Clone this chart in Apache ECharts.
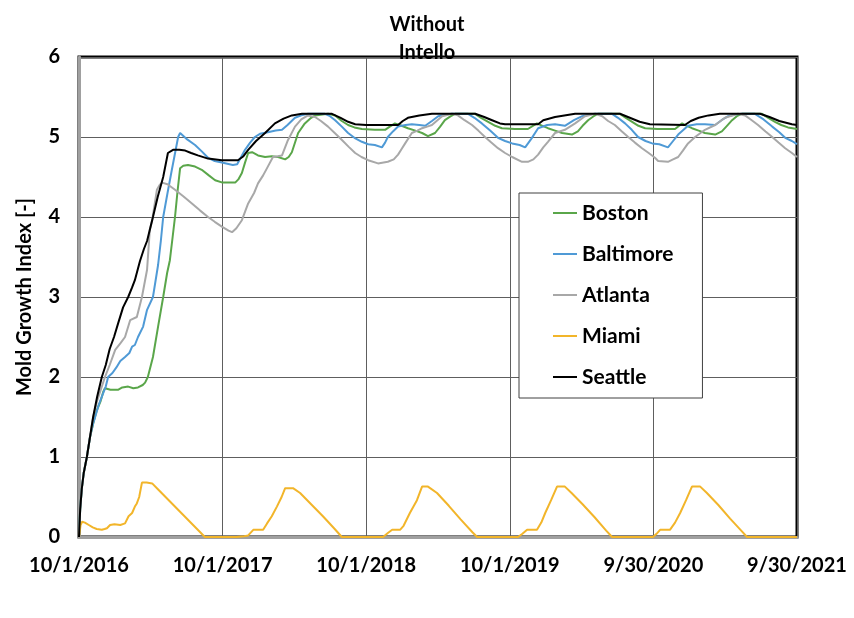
<!DOCTYPE html>
<html>
<head>
<meta charset="utf-8">
<script src="https://cdn.jsdelivr.net/npm/echarts@6/dist/echarts.min.js"></script>
<style>
html,body{margin:0;padding:0;background:#fff;}
#chart{width:854px;height:618px;}
</style>
</head>
<body>
<div id="chart"></div>
<script>
// x = days since 10/1/2016
const tickLabels = ['10/1/2016','10/1/2017','10/1/2018','10/1/2019','9/30/2020','9/30/2021'];
const titleText = 'Without\nIntello';
const yAxisTitle = 'Mold Growth Index [-]';

const boston = [[0,0],[3,0.35],[7,0.6],[12,0.8],[20,1.0],[28,1.25],[36,1.42],[45,1.58],[55,1.7],[62,1.82],[66,1.86],[80,1.84],[99,1.84],[110,1.87],[125,1.88],[138,1.86],[150,1.87],[162,1.9],[168,1.93],[175,2.0],[188,2.25],[201,2.63],[214,3.0],[224,3.3],[231,3.46],[238,3.75],[244,4.0],[250,4.3],[257,4.61],[265,4.64],[277,4.65],[295,4.63],[312,4.59],[330,4.52],[346,4.46],[365,4.43],[397,4.43],[405,4.47],[414,4.55],[422,4.68],[430,4.8],[440,4.81],[455,4.77],[473,4.75],[490,4.76],[506,4.75],[524,4.72],[533,4.75],[541,4.81],[557,5.05],[574,5.17],[590,5.24],[600,5.27],[633,5.29],[651,5.27],[668,5.2],[684,5.15],[700,5.12],[719,5.1],[752,5.09],[778,5.09],[790,5.13],[803,5.17],[820,5.14],[836,5.11],[855,5.08],[872,5.05],[887,5.01],[905,5.05],[918,5.13],[930,5.21],[945,5.26],[956,5.29],[1007,5.29],[1022,5.24],[1040,5.19],[1058,5.14],[1075,5.11],[1108,5.1],[1141,5.1],[1164,5.17],[1178,5.14],[1192,5.11],[1210,5.08],[1228,5.05],[1253,5.03],[1268,5.07],[1280,5.14],[1294,5.21],[1308,5.26],[1319,5.29],[1375,5.29],[1390,5.24],[1406,5.19],[1422,5.14],[1439,5.11],[1470,5.1],[1515,5.1],[1533,5.17],[1545,5.14],[1558,5.11],[1575,5.08],[1591,5.05],[1617,5.03],[1634,5.07],[1647,5.14],[1660,5.21],[1672,5.26],[1685,5.29],[1736,5.29],[1752,5.24],[1769,5.19],[1785,5.15],[1802,5.12],[1825,5.1]];

const baltimore = [[0,0],[3,0.35],[7,0.6],[12,0.8],[20,1.0],[28,1.25],[36,1.42],[41,1.5],[50,1.65],[60,1.78],[68,1.88],[74,2.0],[85,2.05],[95,2.12],[105,2.2],[117,2.25],[128,2.3],[135,2.38],[142,2.4],[150,2.5],[163,2.63],[173,2.84],[188,3.0],[201,3.4],[208,3.7],[214,4.0],[225,4.3],[236,4.59],[252,5.0],[257,5.05],[275,4.97],[295,4.9],[312,4.82],[328,4.74],[345,4.7],[363,4.68],[391,4.65],[402,4.66],[412,4.75],[422,4.84],[435,4.93],[447,5.0],[460,5.04],[480,5.06],[500,5.08],[516,5.09],[530,5.15],[549,5.24],[565,5.27],[582,5.29],[625,5.29],[638,5.26],[651,5.21],[668,5.13],[684,5.05],[700,4.99],[719,4.94],[735,4.91],[752,4.9],[770,4.87],[778,4.93],[785,5.0],[798,5.07],[811,5.13],[830,5.15],[846,5.16],[865,5.15],[880,5.14],[897,5.2],[913,5.26],[930,5.28],[948,5.29],[989,5.29],[1005,5.24],[1024,5.17],[1045,5.08],[1065,4.99],[1083,4.95],[1101,4.92],[1120,4.9],[1134,4.87],[1150,4.98],[1167,5.11],[1190,5.15],[1210,5.16],[1235,5.14],[1258,5.21],[1279,5.26],[1295,5.28],[1312,5.29],[1355,5.29],[1370,5.24],[1388,5.17],[1405,5.09],[1421,5.0],[1440,4.95],[1457,4.92],[1475,4.91],[1497,4.87],[1510,4.95],[1523,5.03],[1548,5.14],[1570,5.16],[1591,5.16],[1617,5.15],[1633,5.21],[1650,5.26],[1668,5.28],[1685,5.29],[1718,5.29],[1740,5.22],[1762,5.13],[1780,5.06],[1795,4.99],[1812,4.95],[1825,4.91]];

const atlanta = [[0,0],[3,0.35],[7,0.6],[12,0.8],[20,1.0],[28,1.25],[36,1.5],[46,1.7],[56,1.85],[66,2.0],[78,2.15],[92,2.34],[105,2.42],[117,2.5],[130,2.71],[147,2.75],[160,3.0],[173,3.34],[180,3.84],[186,3.96],[198,4.34],[205,4.4],[211,4.43],[225,4.41],[244,4.34],[265,4.26],[287,4.17],[308,4.08],[328,4.0],[345,3.94],[363,3.88],[380,3.83],[389,3.81],[400,3.86],[414,3.96],[430,4.17],[445,4.3],[455,4.42],[468,4.52],[480,4.63],[493,4.75],[505,4.76],[516,4.77],[531,4.96],[549,5.13],[565,5.22],[582,5.27],[600,5.25],[615,5.2],[633,5.13],[650,5.05],[669,4.96],[685,4.88],[702,4.8],[718,4.75],[735,4.71],[760,4.67],[785,4.69],[800,4.72],[811,4.78],[820,4.85],[829,4.92],[846,5.05],[860,5.08],[872,5.11],[885,5.13],[897,5.15],[923,5.26],[948,5.29],[963,5.27],[980,5.21],[999,5.15],[1015,5.08],[1032,5.0],[1048,4.93],[1065,4.86],[1083,4.8],[1101,4.75],[1126,4.69],[1141,4.69],[1155,4.72],[1167,4.78],[1180,4.87],[1192,4.94],[1210,5.05],[1235,5.09],[1261,5.17],[1286,5.26],[1312,5.29],[1330,5.26],[1345,5.2],[1362,5.15],[1380,5.07],[1396,5.0],[1413,4.93],[1431,4.86],[1448,4.8],[1464,4.74],[1472,4.7],[1497,4.69],[1510,4.72],[1523,4.75],[1535,4.83],[1548,4.92],[1566,5.0],[1591,5.09],[1617,5.15],[1642,5.24],[1675,5.29],[1693,5.27],[1710,5.21],[1726,5.15],[1745,5.07],[1762,5.0],[1778,4.93],[1795,4.86],[1812,4.8],[1825,4.75]];

const miami = [[0,0],[4,0.15],[8,0.19],[15,0.18],[25,0.15],[35,0.12],[45,0.1],[58,0.09],[65,0.1],[71,0.11],[79,0.15],[90,0.16],[105,0.15],[117,0.17],[126,0.26],[135,0.3],[142,0.38],[147,0.42],[153,0.5],[160,0.68],[172,0.68],[186,0.67],[200,0.6],[230,0.45],[260,0.3],[290,0.15],[320,0.0],[360,0],[400,0],[420,0.01],[430,0.02],[443,0.09],[468,0.09],[478,0.17],[490,0.26],[503,0.38],[515,0.5],[524,0.61],[544,0.61],[562,0.55],[590,0.41],[620,0.26],[650,0.1],[668,0],[720,0],[773,0],[785,0.05],[796,0.09],[816,0.09],[825,0.14],[841,0.3],[859,0.46],[872,0.63],[887,0.63],[910,0.55],[940,0.39],[970,0.22],[1000,0.06],[1012,0],[1060,0],[1116,0],[1127,0.04],[1139,0.09],[1164,0.09],[1175,0.18],[1185,0.3],[1200,0.46],[1215,0.63],[1235,0.63],[1252,0.55],[1280,0.41],[1310,0.25],[1340,0.08],[1355,0],[1400,0],[1459,0],[1468,0.04],[1477,0.09],[1502,0.09],[1515,0.18],[1528,0.3],[1543,0.46],[1558,0.63],[1579,0.63],[1596,0.55],[1625,0.4],[1655,0.23],[1685,0.07],[1698,0],[1760,0],[1825,0]];

const seattle = [[0,0],[3,0.35],[7,0.6],[12,0.8],[20,1.0],[28,1.25],[36,1.5],[46,1.75],[58,2.0],[68,2.15],[78,2.35],[89,2.5],[100,2.68],[112,2.87],[125,3.0],[135,3.12],[142,3.21],[155,3.45],[165,3.6],[173,3.7],[188,4.0],[200,4.25],[214,4.5],[226,4.8],[239,4.84],[255,4.84],[270,4.83],[285,4.8],[302,4.77],[328,4.73],[363,4.71],[404,4.71],[418,4.76],[430,4.84],[450,4.95],[473,5.05],[498,5.17],[520,5.23],[541,5.27],[567,5.29],[643,5.29],[665,5.24],[684,5.19],[702,5.16],[730,5.15],[811,5.15],[823,5.2],[836,5.24],[865,5.27],[897,5.29],[1007,5.29],[1030,5.25],[1050,5.21],[1070,5.17],[1083,5.16],[1167,5.16],[1180,5.21],[1210,5.25],[1261,5.29],[1375,5.29],[1400,5.24],[1425,5.19],[1451,5.16],[1540,5.15],[1555,5.2],[1575,5.24],[1600,5.27],[1629,5.29],[1731,5.29],[1755,5.25],[1780,5.2],[1812,5.16],[1825,5.15]];

const seriesNames = ['Boston','Baltimore','Atlanta','Miami','Seattle'];
const seriesData = [boston, baltimore, atlanta, miami, seattle];
const seriesColors = ['#5aa64a','#4f9ad6','#a8a8a8','#f2b52a','#000000'];

const FONT = 'Lato';
const chart = echarts.init(document.getElementById('chart'), null, {renderer:'canvas'});
chart.setOption({
  animation: false,
  backgroundColor: '#ffffff',
  title: {
    text: titleText,
    left: 'center',
    top: 6,
    textStyle: {fontFamily: FONT, fontWeight: 'bold', fontSize: 20, lineHeight: 28, color: '#000'}
  },
  legend: {
    data: seriesNames,
    orient: 'vertical',
    left: 519,
    top: 193,
    padding: [9, 29, 10, 34],
    itemGap: 19,
    itemWidth: 24,
    itemHeight: 2,
    icon: 'rect',
    borderColor: '#404040',
    borderWidth: 1,
    backgroundColor: '#ffffff',
    textStyle: {fontFamily: FONT, fontWeight: 'bold', fontSize: 21, lineHeight: 22, color: '#000'}
  },
  grid: {
    left: 79, right: 57, top: 57, bottom: 81,
    show: true, borderColor: '#000', borderWidth: 3, backgroundColor: 'transparent'
  },
  xAxis: {
    type: 'value',
    min: 0, max: 1825, interval: 365,
    axisLine: {show: true, onZero: false, lineStyle: {color: '#a0a0a0', width: 3}},
    axisTick: {show: false},
    splitLine: {show: true, lineStyle: {color: '#5e5e5e', width: 1}},
    axisLabel: {
      margin: 19,
      fontFamily: FONT, fontWeight: 'bold', fontSize: 20, color: '#000',
      formatter: function (v) { return tickLabels[Math.round(v / 365)] || ''; }
    }
  },
  yAxis: {
    type: 'value',
    min: 0, max: 6, interval: 1,
    name: yAxisTitle,
    nameLocation: 'middle',
    nameGap: 44,
    nameTextStyle: {fontFamily: FONT, fontWeight: 'bold', fontSize: 20, color: '#000'},
    axisLine: {show: true, lineStyle: {color: '#a0a0a0', width: 3}},
    axisTick: {show: false},
    splitLine: {show: true, lineStyle: {color: '#5e5e5e', width: 1}},
    axisLabel: {margin: 19, fontFamily: FONT, fontWeight: 'bold', fontSize: 20, color: '#000'}
  },
  series: seriesNames.map(function (n, i) {
    return {
      name: n,
      type: 'line',
      data: seriesData[i],
      symbol: 'none',
      showSymbol: false,
      smooth: false,
      color: seriesColors[i],
      itemStyle: {color: seriesColors[i]},
      lineStyle: {color: seriesColors[i], width: 2},
      z: 2 + i
    };
  })
});
</script>
</body>
</html>
